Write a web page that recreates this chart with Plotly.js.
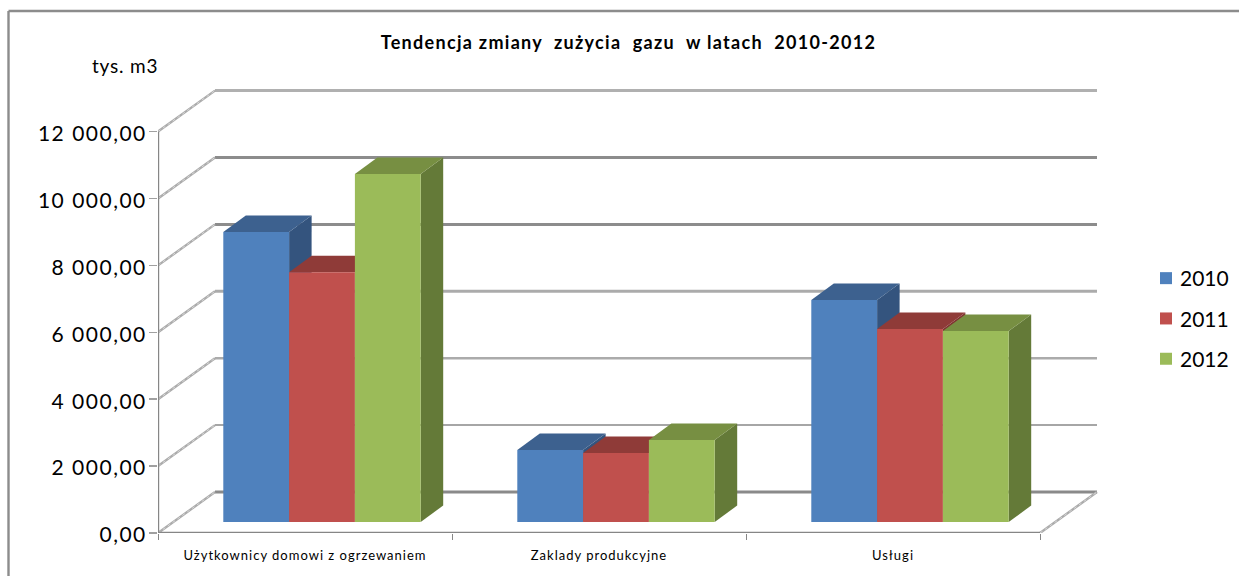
<!DOCTYPE html>
<html>
<head>
<meta charset="utf-8">
<script src="https://cdn.plot.ly/plotly-3.0.1.min.js"></script>
<style>
html,body{margin:0;padding:0;background:#fff}
#c{width:1239px;height:576px}
g.ytick{transform:translate(4px,2px)}
g.ytick text{letter-spacing:1.5px}
g.xtick text{letter-spacing:1px}
.gtitle{letter-spacing:1.3px}
.annotation-text{letter-spacing:.8px}
.legendtext{transform:translateX(-6px)}
</style>
</head>
<body>
<div id="c"></div>
<script>
const categories = ["Użytkownicy domowi z ogrzewaniem", "Zaklady produkcyjne", "Usługi"];
const years = ["2010", "2011", "2012"];
const values2010 = [8670, 2150, 6640];
const values2011 = [7470, 2060, 5770];
const values2012 = [10400, 2450, 5710];
const gridLevels = [0, 2000, 4000, 6000, 8000, 10000, 12000];
const gridLabels = ["0,00", "2 000,00", "4 000,00", "6 000,00", "8 000,00", "10 000,00", "12 000,00"];

const series = [values2010, values2011, values2012];
const W = 1239, H = 576;
const L = 158, R = W, T = 20, B = 533;
const pxX = 294, pxY = 66.9 / 2000;           // pixels per x unit, per y unit
const dx = p => p / pxX, dy = p => p / pxY;
const xMax = (R - L) / pxX, yMax = (B - T) / pxY;

const wallX = dx(57), wallY = dy(41);
const floorX = dx(15), floorY = dy(11);
const depthX = dx(22.5), depthY = dy(16.5);
const barW = dx(65.8), groupShift = dx(17);

const front = ["#4F81BD", "#C0504D", "#9BBB59"];
const topC = ["#3D618F", "#8F3B38", "#778F42"];
const sideC = ["#34547E", "#7F3431", "#647A38"];
const gridW = {0: 3.2, 2000: 2, 4000: 2.6, 6000: 3, 8000: 3, 10000: 3, 12000: 3};
const gridC = {0: "#8A8A8A", 2000: "#A6A6A6", 4000: "#ABABAB", 6000: "#ABABAB", 8000: "#8C8C8C", 10000: "#8C8C8C", 12000: "#B0B0B0"};

const traces = [];
const axisName = n => n === 0 ? ["x", "y"] : ["x" + (n + 1), "y" + (n + 1)];
const wallLine = (x, y, line) => traces.push({type: "scatter", mode: "lines", x, y, line, showlegend: false, hoverinfo: "skip", cliponaxis: false});
const diagonal = (x, y) => {
  wallLine(x, y, {color: "#ABABAB", width: 2.4});
  wallLine(x, y, {color: "#E2E2E2", width: 0.8, dash: "3px,3px"});
};

// back wall grid lines and left wall diagonals
gridLevels.forEach(v => {
  wallLine([wallX, wallX + 3], [v + wallY, v + wallY], {color: gridC[v], width: gridW[v]});
  diagonal([0, wallX], [v, v + wallY]);
});
// right floor diagonal
diagonal([3, 3 + wallX], [0, wallY]);
// front axis lines
wallLine([0, 0], [0, 12000], {color: "#868686", width: 2.4});
wallLine([0, 3], [0, 0], {color: "#868686", width: 2.4});

const barLeft = (c, s) => c + 0.5 + groupShift + (s - 1.5) * barW;

series.forEach((vals, s) => {
  const [xa, ya] = axisName(s);
  // side and top faces sit under this series' front and over the previous front
  vals.forEach((v, c) => {
    const x0 = barLeft(c, s), x1 = x0 + barW;
    const b = floorY, t = floorY + v;
    traces.push({type: "scatter", mode: "lines", fill: "toself", fillcolor: sideC[s], xaxis: xa, yaxis: ya,
      x: [x1, x1 + depthX, x1 + depthX, x1, x1], y: [b, b + depthY, t + depthY, t, b],
      line: {width: 0}, showlegend: false, hoverinfo: "skip"});
    traces.push({type: "scatter", mode: "lines", fill: "toself", fillcolor: topC[s], xaxis: xa, yaxis: ya,
      x: [x0, x0 + depthX, x1 + depthX, x1, x0], y: [t, t + depthY, t + depthY, t, t],
      line: {width: 0}, showlegend: false, hoverinfo: "skip"});
  });
  const [xb, yb] = axisName(s + 1);
  traces.push({type: "bar", name: years[s], legendgroup: years[s], xaxis: xb, yaxis: yb,
    x: categories.map((_, c) => barLeft(c, s) + barW / 2), y: vals,
    base: floorY, width: barW, marker: {color: front[s], line: {width: 0}}});
});

const hidden = n => ({
  ["xaxis" + n]: {overlaying: "x", range: [0, xMax], visible: false, fixedrange: true},
  ["yaxis" + n]: {overlaying: "y", range: [0, yMax], visible: false, fixedrange: true}
});

const font = "Lato, 'Open Sans', sans-serif";
const layout = Object.assign({
  width: W, height: H,
  margin: {l: L, r: W - R, t: T, b: H - B, pad: 0, autoexpand: false},
  paper_bgcolor: "#fff", plot_bgcolor: "rgba(0,0,0,0)",
  font: {family: font, color: "#000"},
  showlegend: true,
  hovermode: false,
  title: {text: "<b>Tendencja zmiany  zużycia  gazu  w latach  2010-2012</b>",
    xref: "container", yref: "container", x: 628.5 / W, y: 1 - 43 / H,
    xanchor: "center", yanchor: "middle", font: {family: font, size: 18, color: "#000"}},
  xaxis: {range: [0, xMax], fixedrange: true, showgrid: false, zeroline: false, showline: false,
    tickmode: "array", tickvals: [0.5, 1.5, 2.5], ticktext: categories, ticks: "",
    ticklabelstandoff: 13, tickfont: {family: font, size: 13, color: "#000"}, tickangle: 0,
    minor: {tickmode: "array", tickvals: [0, 1, 2, 3], ticks: "outside", ticklen: 6, tickwidth: 1, tickcolor: "#868686", showgrid: false}},
  yaxis: {range: [0, yMax], fixedrange: true, showgrid: false, zeroline: false, showline: false,
    tickmode: "array", tickvals: gridLevels, ticktext: gridLabels, ticks: "outside", ticklen: 8, tickwidth: 1.5,
    tickcolor: "#A0A0A0", ticklabelstandoff: 2, tickfont: {family: font, size: 21, color: "#000"}},
  legend: {x: (1146 - L) / (R - L), xanchor: "left", y: (B - 258) / (B - T), yanchor: "top",
    font: {family: font, size: 21, color: "#000"}, tracegroupgap: 10, bgcolor: "rgba(0,0,0,0)"},
  annotations: [{text: "tys. m3", xref: "paper", yref: "paper", showarrow: false,
    x: (90 - L) / (R - L), y: (B - 65) / (B - T), xanchor: "left", yanchor: "middle",
    font: {family: font, size: 19, color: "#000"}}],
  shapes: [
    {type: "line", xref: "paper", yref: "paper", x0: (8.5 - L) / (R - L), x1: (W + 5 - L) / (R - L),
     y0: (B - 11) / (B - T), y1: (B - 11) / (B - T), line: {color: "#8C8C8C", width: 2.4}},
    {type: "line", xref: "paper", yref: "paper", x0: (8.5 - L) / (R - L), x1: (8.5 - L) / (R - L),
     y0: (B - 11) / (B - T), y1: (B - H - 5) / (B - T), line: {color: "#8C8C8C", width: 2.4}}
  ]
}, hidden(2), hidden(3), hidden(4));

Plotly.newPlot("c", traces, layout, {displayModeBar: false, staticPlot: true});
</script>
</body>
</html>
